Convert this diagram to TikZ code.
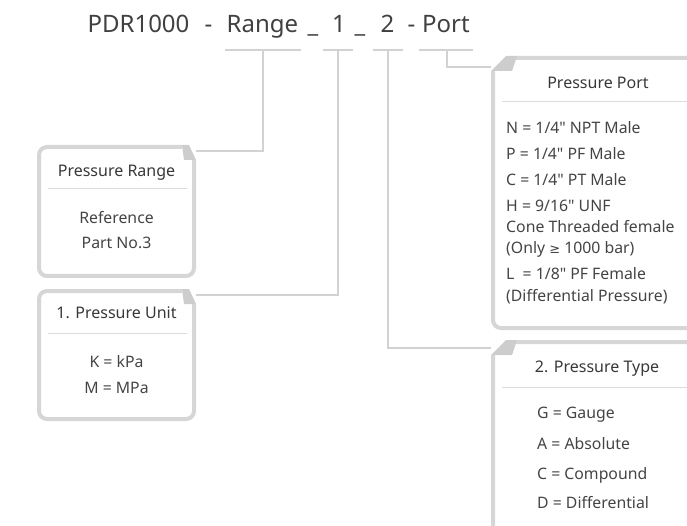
\documentclass[tikz,border=0pt]{standalone}
\usepackage{fontspec}
\setmainfont{Noto Sans}
\newfontfamily\plainfont{Noto Sans}
\newfontfamily\symfont{DejaVu Sans}
\definecolor{titlec}{HTML}{404040}
\definecolor{headc}{HTML}{383838}
\definecolor{bodyc}{HTML}{444444}
\definecolor{boxgray}{HTML}{D6D6D6}
\definecolor{foldgray}{HTML}{CDCDCD}
\definecolor{linegray}{HTML}{D2D2D2}
\definecolor{divgray}{HTML}{DCDCDC}
\tikzset{
  boxline/.style={draw=boxgray, line width=4pt, rounded corners=8pt},
  flap/.style={fill=foldgray},
  conn/.style={draw=linegray, line width=1.8pt},
  uline/.style={draw=linegray, line width=1.8pt},
  divider/.style={draw=divgray, line width=1pt},
  ttl/.style={font=\fontsize{24}{28}\selectfont, text=titlec, inner sep=0pt, anchor=base},
  head/.style={font=\fontsize{16}{19}\selectfont, text=headc, inner sep=0pt, anchor=base},
  body/.style={font=\plainfont\fontsize{15.8}{18}\selectfont, text=bodyc, inner sep=0pt, anchor=base},
  bodyl/.style={body, anchor=base west}
}
\begin{document}
\begin{tikzpicture}[x=1pt,y=-1pt]
\useasboundingbox (0,0) rectangle (687,526);
\clip (0,0) rectangle (687,526);
% title
\node[ttl] (tPDR) at (138.5,33) {PDR1000};
\node[ttl] (tD1) at (208.5,33) {-};
\node[ttl] (tRange) at (262.5,33) {Range};
\node[ttl] (tU1) at (313,33) {\_};
\node[ttl] (tOne) at (339,33) {1};
\node[ttl] (tU2) at (360,33) {\_};
\node[ttl] (tTwo) at (387.5,33) {2};
\node[ttl] (tD2) at (411.5,33) {-};
\node[ttl] (tPort) at (446,33) {Port};
% underlines
\coordinate (uRa) at (225,50); \coordinate (uRb) at (301,50); \coordinate (uRm) at (263,50);
\coordinate (u1a) at (323,50); \coordinate (u1b) at (353,50); \coordinate (u1m) at (338,50);
\coordinate (u2a) at (373,50); \coordinate (u2b) at (403,50); \coordinate (u2m) at (388,50);
\coordinate (uPa) at (419,50); \coordinate (uPb) at (473,50); \coordinate (uPm) at (447,50);
\draw[uline] (uRa) -- (uRb);
\draw[uline] (u1a) -- (u1b);
\draw[uline] (u2a) -- (u2b);
\draw[uline] (uPa) -- (uPb);
% box entry points
\coordinate (inRange) at (196,151);
\coordinate (inUnit) at (196,295);
\coordinate (inType) at (491,348);
\coordinate (inPort) at (491,67);
% connectors
\draw[conn] (uRm) |- (inRange);
\draw[conn] (u1m) |- (inUnit);
\draw[conn] (u2m) |- (inType);
\draw[conn] (uPm) |- (inPort);
% Pressure Range box (L=39,R=194,T=147,B=276)
\draw[boxline] (182,147) -- (39,147) -- (39,276) -- (194,276) -- (194,160);
\fill[flap] (182,145) -- (189,145) -- (196,160) -- (184,160) -- cycle;
\node[head] (hRange) at (116.5,176.5) {Pressure Range};
\draw[divider] (48,189) -- (187,189);
\node[body] (bRange1) at (116.5,223.5) {Reference};
\node[body] (bRange2) at (116.5,249) {Part No.3};
% 1. Pressure Unit box (L=39,R=194,T=291,B=419)
\draw[boxline] (182,291) -- (39,291) -- (39,419) -- (194,419) -- (194,304);
\fill[flap] (182,289) -- (189,289) -- (196,304) -- (184,304) -- cycle;
\node[head] (hUnit) at (116.5,318.5) {1. Pressure Unit};
\draw[divider] (48,333) -- (187,333);
\node[body] (bUnit1) at (116.5,367.5) {K = kPa};
\node[body] (bUnit2) at (116.5,393) {M = MPa};
% Pressure Port box (L=493,T=58,B=328)
\draw[boxline] (516,58) -- (705,58) -- (705,328) -- (493,328) -- (493,71);
\fill[flap] (506,56) -- (517,56) -- (512,71) -- (491,71) -- cycle;
\node[head] (hPort) at (598,88.5) {Pressure Port};
\draw[divider] (502,102) -- (687,102);
\node[bodyl] (p1) at (506,133.5) {N = 1/4" NPT Male};
\node[bodyl] (p2) at (506,159.5) {P = 1/4" PF Male};
\node[bodyl] (p3) at (506,185.5) {C = 1/4" PT Male};
\node[bodyl] (p4) at (506,211.5) {H = 9/16" UNF};
\node[bodyl] (p5) at (506,232.5) {Cone Threaded female};
\node[bodyl] (p6) at (506,253.5) {(Only {\symfont\fontsize{13}{16}\selectfont ≥} 1000 bar)};
\node[bodyl] (p7) at (506,279.5) {L\ \ = 1/8" PF Female};
\node[bodyl] (p8) at (506,301.5) {(Differential Pressure)};
% 2. Pressure Type box (L=493,T=342)
\draw[boxline] (516,342) -- (705,342) -- (705,545) -- (493,545) -- (493,355);
\fill[flap] (506,340) -- (517,340) -- (512,355) -- (491,355) -- cycle;
\node[head] (hType) at (597,372.5) {2. Pressure Type};
\draw[divider] (502,387) -- (687,387);
\node[bodyl] (t1) at (537,418.5) {G = Gauge};
\node[bodyl] (t2) at (537,449) {A = Absolute};
\node[bodyl] (t3) at (537,479.5) {C = Compound};
\node[bodyl] (t4) at (537,508.5) {D = Differential};
\end{tikzpicture}
\end{document}
